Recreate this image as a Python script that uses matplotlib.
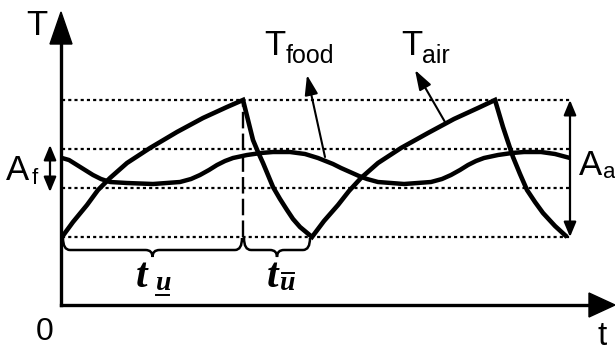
import matplotlib
matplotlib.use("Agg")
import matplotlib.pyplot as plt
from matplotlib.path import Path
from matplotlib.patches import PathPatch, Polygon
from matplotlib.patches import ArrowStyle

plt.rcParams['font.family'] = ['Liberation Sans', 'DejaVu Sans']

# valores (t hacia la derecha, T hacia arriba, origen en los ejes)
tair_t = [1, 12, 26, 37, 49, 66, 89, 116, 142, 166, 182,
          187, 192, 197, 202, 207, 212, 219, 226, 232, 239, 245, 251,
          263, 277, 288, 300, 317, 340, 367, 393, 417, 434,
          442, 447, 452, 459, 466, 474, 482, 494, 506]
tair_T = [68, 83, 100, 115, 127, 142, 157, 173, 187, 198, 205,
          185, 165, 153, 142, 130, 118, 106, 95, 86, 78, 73, 68,
          84, 100, 114, 127, 142, 157, 172, 186, 197, 205,
          178, 163, 148, 131, 115, 103, 92, 79, 68]

tfood_t = [1, 8, 16, 24, 32, 40, 49, 66, 92, 119, 130, 139, 148, 156, 164,
           172, 186, 200, 212, 229, 244, 257, 272, 280, 289, 298, 306, 317,
           343, 370, 381, 390, 399, 407, 415, 423, 437, 451, 463, 480, 494,
           509]
tfood_T = [147, 145, 140, 135, 130, 126, 123, 122, 121, 123, 126, 130, 135,
           140, 144, 147, 150, 152, 153, 153, 151, 147, 141, 137, 133, 129,
           126, 123, 121, 123, 126, 130, 135, 140, 144, 147, 150, 152, 153,
           153, 151, 147]

# niveles punteados: max aire, max comida, min comida, min aire
niveles = [205, 156, 117, 68]
t_fin = 509          # fin de las lineas punteadas
t_cambio = 182       # fin del calentamiento (linea discontinua)
t_ciclo = 251        # fin del enfriamiento

fig = plt.figure(figsize=(6.15, 3.54), dpi=100)
ax = fig.add_axes([0, 0, 1, 1])
ax.set_xlim(-61, 554)
ax.set_ylim(-49, 305)
ax.axis('off')

# lineas punteadas
for nv in niveles:
    ax.plot([1, t_fin], [nv, nv], color='black', lw=1.6, linestyle=(0, (1.4, 1.4)))

# linea discontinua vertical
ax.plot([t_cambio, t_cambio], [niveles[3], niveles[0]], color='black', lw=1.7,
        linestyle=(0, (7, 2.2)))

# curvas
ax.plot(tfood_t, tfood_T, color='black', lw=3.2, solid_capstyle='butt')
ax.plot(tair_t, tair_T, color='black', lw=3.3, solid_joinstyle='miter',
        solid_capstyle='butt')

# ejes con flechas
ax.plot([0, 0], [0, 262], color='black', lw=2.4, solid_capstyle='projecting')
ax.plot([0, 529], [0, 0], color='black', lw=2.4, solid_capstyle='projecting')
ax.add_patch(Polygon([[0, 293], [-11, 261], [11, 261]], closed=True, color='black'))
ax.add_patch(Polygon([[554, 0], [528, 12], [528, -12]], closed=True, color='black'))


def llave(x0, x1, y0, h=12, d=7, r=7):
    xm = (x0 + x1) / 2
    yb = y0 - h
    verts = [(x0, y0), (x0, yb), (x0 + r, yb),
             (xm - r, yb), (xm, yb), (xm, yb - d),
             (xm, yb), (xm + r, yb),
             (x1 - r, yb), (x1, yb), (x1, y0)]
    codes = [Path.MOVETO, Path.CURVE3, Path.CURVE3,
             Path.LINETO, Path.CURVE3, Path.CURVE3,
             Path.CURVE3, Path.CURVE3,
             Path.LINETO, Path.CURVE3, Path.CURVE3]
    ax.add_patch(PathPatch(Path(verts, codes), fill=False, lw=1.8, color='black'))


llave(2, t_cambio - 1, niveles[3] - 1)
llave(t_cambio + 1, t_ciclo - 2, niveles[3] - 1)

# etiquetas de los ejes
ax.text(-35, 270, 'T', fontsize=25, ha='left', va='baseline')
ax.text(-25, -35, '0', fontsize=23, ha='left', va='baseline')
ax.text(536, -40, 't', fontsize=24, ha='left', va='baseline')

# T_food y T_air
ax.text(203, 250, 'T', fontsize=25, ha='left', va='baseline')
ax.text(225, 242, 'food', fontsize=18, ha='left', va='baseline')
ax.text(340, 250, 'T', fontsize=25, ha='left', va='baseline')
ax.text(361, 242, 'air', fontsize=18, ha='left', va='baseline')

flecha = ArrowStyle('-|>', head_length=0.6, head_width=0.2)
ax.annotate('', xy=(246, 230), xytext=(264, 148),
            arrowprops=dict(arrowstyle=flecha, mutation_scale=20, lw=1.5,
                            color='black', shrinkA=0, shrinkB=0))
ax.annotate('', xy=(354, 235), xytext=(384, 183),
            arrowprops=dict(arrowstyle=flecha, mutation_scale=20, lw=1.5,
                            color='black', shrinkA=0, shrinkB=0))

# amplitudes
doble = ArrowStyle('<|-|>', head_length=0.6, head_width=0.25)
ax.annotate('', xy=(-11, 160), xytext=(-11, 113),
            arrowprops=dict(arrowstyle=doble, mutation_scale=15, lw=1.6,
                            color='black', shrinkA=0, shrinkB=0))
ax.annotate('', xy=(509, 205), xytext=(509, 68),
            arrowprops=dict(arrowstyle=doble, mutation_scale=15, lw=1.6,
                            color='black', shrinkA=0, shrinkB=0))
ax.text(-55, 125, 'A', fontsize=25, ha='left', va='baseline')
ax.text(-29, 121, 'f', fontsize=16, ha='left', va='baseline')
ax.text(518, 130, 'A', fontsize=25, ha='left', va='baseline')
ax.text(542, 127, 'a', fontsize=16, ha='left', va='baseline')

# t_u y t_u barra
serif = dict(family='Liberation Serif', weight='bold', style='italic')
ax.text(75, 18, 't', fontsize=30, ha='left', va='baseline', **serif)
ax.text(95, 15, 'u', fontsize=20, ha='left', va='baseline', **serif)
ax.plot([95, 108], [10, 10], color='black', lw=1.4)
ax.text(206, 18, 't', fontsize=30, ha='left', va='baseline', **serif)
ax.text(219, 15, 'u', fontsize=20, ha='left', va='baseline', **serif)
ax.plot([221, 233], [32, 32], color='black', lw=1.4)

fig.savefig('out.png', dpi=100)
